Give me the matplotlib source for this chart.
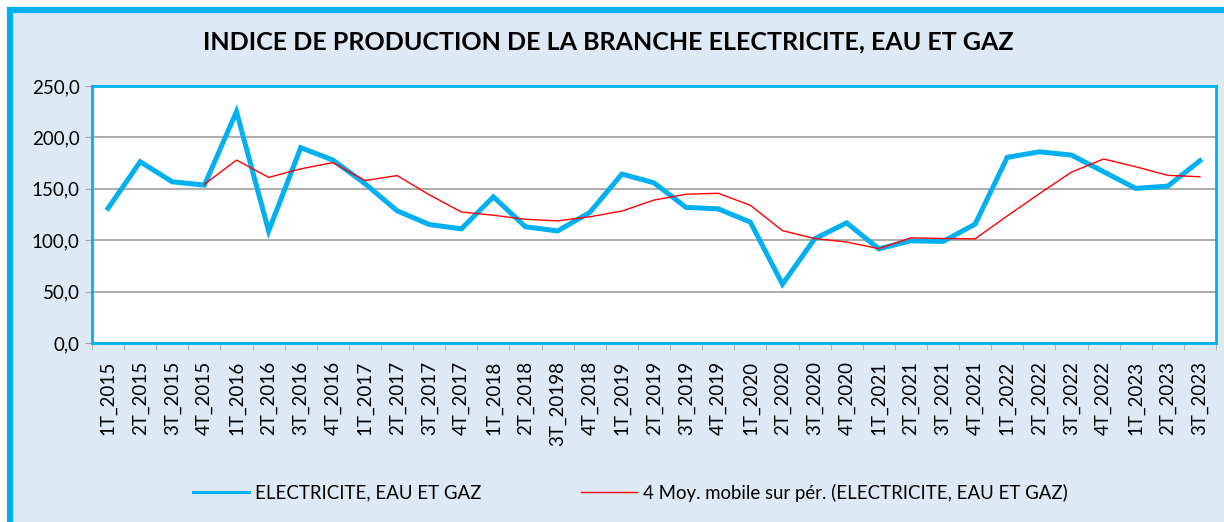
#!/usr/bin/env python

# Indice de production - branche electricite, eau et gaz (trimestriel)

import numpy as np
import pandas as pd
import matplotlib
matplotlib.use("Agg")
import matplotlib.pyplot as plt
from matplotlib.patches import Rectangle

quarters = ["1T_2015", "2T_2015", "3T_2015", "4T_2015",
            "1T_2016", "2T_2016", "3T_2016", "4T_2016",
            "1T_2017", "2T_2017", "3T_2017", "4T_2017",
            "1T_2018", "2T_2018", "3T_20198", "4T_2018",
            "1T_2019", "2T_2019", "3T_2019", "4T_2019",
            "1T_2020", "2T_2020", "3T_2020", "4T_2020",
            "1T_2021", "2T_2021", "3T_2021", "4T_2021",
            "1T_2022", "2T_2022", "3T_2022", "4T_2022",
            "1T_2023", "2T_2023", "3T_2023"]

indice = [131.0, 176.3, 156.8, 153.6,
          225.0, 109.0, 190.0, 178.0,
          155.0, 128.6, 115.3, 111.0,
          142.2, 113.0, 109.0, 127.0,
          164.3, 155.8, 131.9, 130.5,
          117.6, 57.2, 101.3, 116.9,
          91.6, 99.4, 98.8, 115.6,
          180.6, 186.0, 182.8, 166.6,
          150.4, 152.6, 177.3]

# Excel trendline: moving average over 4 periods
moy_mobile = pd.Series(indice).rolling(4).mean()

CYAN = "#00B0F0"
BG = "#DDEAF6"
GRID = "#A6A6A6"

fig = plt.figure(figsize=(12.24, 5.22), dpi=100)
fig.patch.set_facecolor("white")

# chart frame (cropped on right and bottom like the screenshot)
fig.patches.append(Rectangle((10 / 1224, -0.05), 1.2, 1 - 10 / 522 + 0.05,
                             transform=fig.transFigure, facecolor=BG,
                             edgecolor=CYAN, linewidth=4.5, zorder=-5))

ax = fig.add_axes([92 / 1224, 1 - 343 / 522, 1124 / 1224, 257 / 522])
ax.set_facecolor("white")

x = np.arange(len(quarters))
ax.plot(x, indice, color=CYAN, linewidth=3.6, solid_joinstyle="miter",
        label="ELECTRICITE, EAU ET GAZ", zorder=3)
ax.plot(x, moy_mobile, color="#FF0000", linewidth=1.0,
        label="4 Moy. mobile sur pér. (ELECTRICITE, EAU ET GAZ)", zorder=4)

ax.set_xlim(-0.5, len(quarters) - 0.5)
ax.set_ylim(0, 250)
ax.set_yticks(np.arange(0, 251, 50))
ax.set_yticklabels([("%.1f" % v).replace(".", ",") for v in np.arange(0, 251, 50)],
                   fontsize=13.5, family="Lato")
ax.yaxis.grid(True, color=GRID, linewidth=1.3)
ax.set_axisbelow(True)
ax.tick_params(axis="y", length=5, color=GRID, pad=4)

ax.set_xticks(x)
ax.set_xticklabels(quarters, rotation=90, fontsize=13.5, family="Lato")
ax.set_xticks(np.arange(-0.5, len(quarters), 1), minor=True)
ax.tick_params(axis="x", which="major", length=0, pad=13)
ax.tick_params(axis="x", which="minor", length=5, color=GRID)

for side in ["left", "top", "right", "bottom"]:
    ax.spines[side].set_color(CYAN)
    ax.spines[side].set_linewidth(2)

fig.text(0.497, 0.92, "INDICE DE PRODUCTION DE LA BRANCHE ELECTRICITE, EAU ET GAZ",
         ha="center", va="center", fontsize=18, fontweight="bold", family="Lato")

leg = fig.legend(loc="center", bbox_to_anchor=(0.515, 0.056), ncol=2, frameon=False,
                 prop={"family": "Lato", "size": 13.4},
                 handlelength=3.0, handletextpad=0.3, columnspacing=5.4)
leg.legend_handles[0].set_linewidth(2.2)

fig.savefig("out.png", dpi=100, facecolor=fig.get_facecolor())
